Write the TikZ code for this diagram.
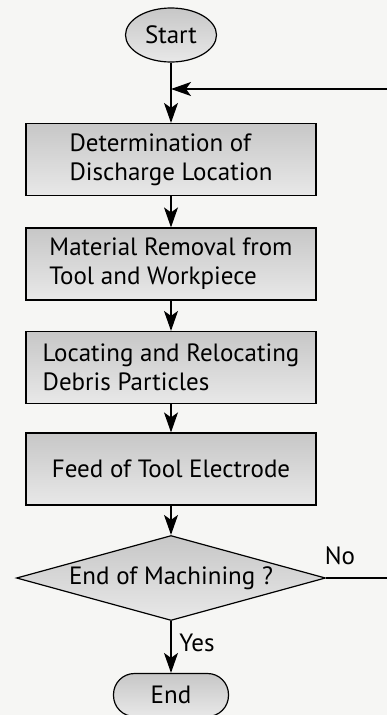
\documentclass[tikz,border=0pt]{standalone}
\usepackage{fontspec}
\setmainfont{PT Sans}
\usetikzlibrary{shapes.geometric, arrows.meta}
\definecolor{paper}{RGB}{246,246,244}
\tikzstyle{shade} = [top color = black!22, bottom color = black!9, draw = black]
\tikzstyle{begin} = [ellipse, minimum width = 91pt, minimum height = 54pt, inner sep = 0pt, text centered, shade]
\tikzstyle{finish} = [rectangle, rounded corners = 21pt, minimum width = 115pt, minimum height = 43pt, inner sep = 0pt, text centered, shade]
\tikzstyle{process} = [rectangle, minimum width = 290pt, minimum height = 72pt, align = left, shade]
\tikzstyle{decision} = [diamond, shape aspect = 3.6, minimum width = 309pt, minimum height = 85pt, inner sep = 0pt, text centered, shade]
\tikzstyle{arrow} = [line width = 1.2pt, -{Stealth[length = 20pt, width = 14pt, inset = 5pt]}]

\begin{document}
\begin{tikzpicture}[node distance = 103pt, line width = 1.2pt, font = \fontsize{25}{29}\selectfont]
    \fill[paper](0,0) rectangle (387pt,-715pt);
    \useasboundingbox (0,0) rectangle (387pt,-715pt);

    \node(start1)[begin] at (171pt,-35pt){Start};
    \node(pr1)[process, below of = start1, yshift = -21.5pt]{Determination of\\Discharge Location};
    \node(pr2)[process, below of = pr1, yshift = -1.5pt]{Material Removal from\\Tool and Workpiece};
    \node(pr3)[process, below of = pr2, yshift = -0.5pt]{Locating and Relocating\\Debris Particles};
    \node(pr4)[process, below of = pr3, yshift = 1.5pt]{Feed of Tool Electrode};
    \node(dec1)[decision, below of = pr4, yshift = -6pt]{End of Machining ?};
    \node(stop1)[finish, below of = dec1, yshift = -14pt]{End};
    \node(no1) at (340pt,-556pt){No};
    \node(yes1) at (197pt,-643pt){Yes};

    \coordinate(merge) at (171pt,-89pt);
    \coordinate(back) at ([xshift = 70pt]dec1.east);

    \draw[arrow](start1)--(pr1);
    \draw[arrow](pr1)--(pr2);
    \draw[arrow](pr2)--(pr3);
    \draw[arrow](pr3)--(pr4);
    \draw[arrow](pr4)--(dec1);
    \draw[arrow](dec1)--(stop1);
    \draw[arrow](dec1.east)--(back)|-(merge);
\end{tikzpicture}
\end{document}
